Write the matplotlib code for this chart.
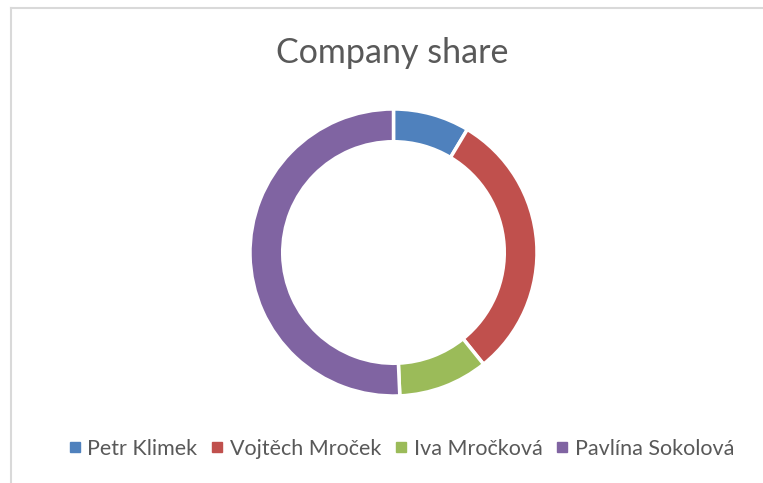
import matplotlib.pyplot as plt
from matplotlib.lines import Line2D

# data
names = ['Petr Klimek', 'Vojtěch Mroček', 'Iva Mročková', 'Pavlína Sokolová']
share = [8.6, 30.6, 10.1, 50.7]
colors = ['#4F81BD', '#C0504D', '#9BBB59', '#8064A2']

plt.rcParams['font.family'] = ['Lato', 'DejaVu Sans']

W, H = 763, 483
fig = plt.figure(figsize=(W / 100, H / 100), dpi=100)

# frame lines (top and left) like the screenshot border
fig.add_artist(Line2D([11 / W, 11 / W], [0, 1 - 8 / H], transform=fig.transFigure,
                      color='#d9d9d9', lw=1.5))
fig.add_artist(Line2D([11 / W, 1], [1 - 8 / H, 1 - 8 / H], transform=fig.transFigure,
                      color='#d9d9d9', lw=1.5))

cx, cy, r = 393.5, 252.5, 143.5
ax = fig.add_axes([(cx - r) / W, (H - cy - r) / H, 2 * r / W, 2 * r / H])
ax.pie(share, colors=colors, startangle=90, counterclock=False, radius=1,
       wedgeprops=dict(width=0.228, edgecolor='white', linewidth=2.5))
ax.set_aspect('equal')
ax.set_xlim(-1.0, 1.0)
ax.set_ylim(-1.0, 1.0)

fig.text(392 / W, 1 - 53 / H, 'Company share', ha='center', va='center',
         fontsize=24.5, color='#595959')

handles = [Line2D([], [], marker='s', ls='', color=c, markersize=7) for c in colors]
fig.legend(handles, names, loc='center', bbox_to_anchor=(401 / W, 1 - 449 / H),
           ncol=4, frameon=False, fontsize=15.5, labelcolor='#595959',
           handlelength=0.6, handletextpad=0.3, columnspacing=0.6)

fig.savefig('out.png', dpi=100)
